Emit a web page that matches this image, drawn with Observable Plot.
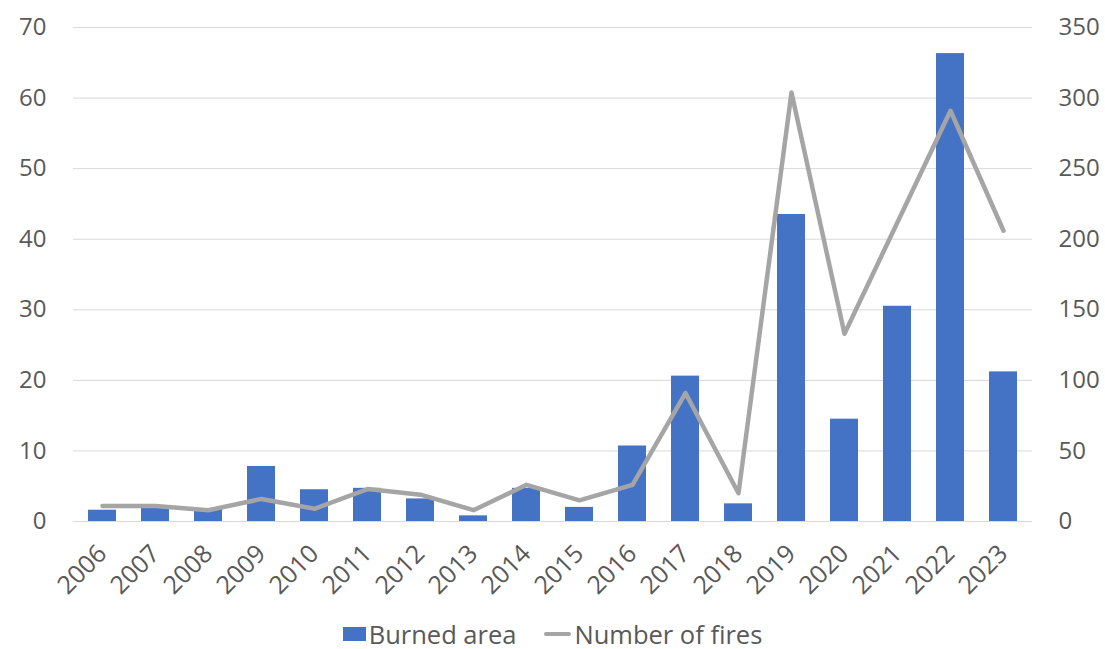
<!DOCTYPE html>
<html>
<head>
<meta charset="utf-8">
<script src="https://cdn.jsdelivr.net/npm/d3@7"></script>
<script src="https://cdn.jsdelivr.net/npm/@observablehq/plot@0.6"></script>
<style>
  html, body { margin: 0; padding: 0; background: #fff; }
  #chart { position: relative; width: 1105px; height: 649px; font-family: "Open Sans", sans-serif; }
  .legend { position: absolute; left: 0; width: 1105px; top: 617px; display: flex; justify-content: center; align-items: center; font-size: 25.5px; color: #595959; }
  .legend .item { display: flex; align-items: center; margin: 0 14px; }
  .sw-bar { width: 23px; height: 14px; background: #4472c4; margin-right: 3px; }
  .sw-line { width: 27px; height: 4px; border-radius: 2px; background: #a5a5a5; margin-right: 3px; }
</style>
</head>
<body>
<div id="chart"></div>
<script>
// Years on the category axis
const years = ["2006","2007","2008","2009","2010","2011","2012","2013","2014","2015","2016","2017","2018","2019","2020","2021","2022","2023"];
// Burned area (left axis)
const burnedArea = [1.6, 2.2, 1.7, 7.8, 4.5, 4.7, 3.2, 0.8, 4.7, 2.0, 10.7, 20.6, 2.5, 43.5, 14.5, 30.5, 66.3, 21.2];
// Number of fires (right axis)
const numberOfFires = [11, 11, 8, 16, 9, 23, 19, 8, 26, 15, 26, 91, 20, 304, 133, 212, 291, 206];
// Axis ticks
const leftTicks = [0, 10, 20, 30, 40, 50, 60, 70];
const rightTicks = [0, 50, 100, 150, 200, 250, 300, 350];

// The fires series shares the y scale, rescaled so 350 fires align with 70 on the left axis
const ratio = 70 / 350;
const rows = years.map((year, i) => ({year, area: burnedArea[i], fires: numberOfFires[i], firesScaled: numberOfFires[i] * ratio}));

const textColor = "#595959";

const plot = Plot.plot({
  width: 1105,
  height: 615,
  marginLeft: 73,
  marginRight: 73,
  marginTop: 27,
  marginBottom: 94,
  style: {fontFamily: "Open Sans, sans-serif", fontSize: "24px", color: textColor, background: "#fff"},
  x: {type: "band", domain: years, paddingInner: 0.48, paddingOuter: 0.24, label: null},
  y: {domain: [0, 70], label: null},
  marks: [
    Plot.gridY(leftTicks, {stroke: "#d9d9d9", strokeOpacity: 1, strokeWidth: 1}),
    Plot.barY(rows, {x: "year", y: "area", fill: "#4472c4"}),
    Plot.line(rows, {x: "year", y: "firesScaled", stroke: "#a5a5a5", strokeWidth: 4.5, strokeLinejoin: "round", strokeLinecap: "round"}),
    Plot.axisY(leftTicks, {anchor: "left", tickSize: 0, tickPadding: 27, label: null, fill: textColor}),
    Plot.axisY(rightTicks.map(v => v * ratio), {anchor: "right", tickSize: 0, tickPadding: 26, label: null, fill: textColor, tickFormat: v => String(Math.round(v / ratio))}),
    Plot.axisX({tickSize: 0, tickPadding: 28, tickRotate: -45, label: null, fill: textColor, fontSize: 25})
  ]
});

const chart = document.getElementById("chart");
chart.appendChild(plot);

const legend = document.createElement("div");
legend.className = "legend";
legend.innerHTML = '<div class="item"><span class="sw-bar"></span>Burned area</div>' +
                   '<div class="item"><span class="sw-line"></span>Number of fires</div>';
chart.appendChild(legend);
</script>
</body>
</html>
